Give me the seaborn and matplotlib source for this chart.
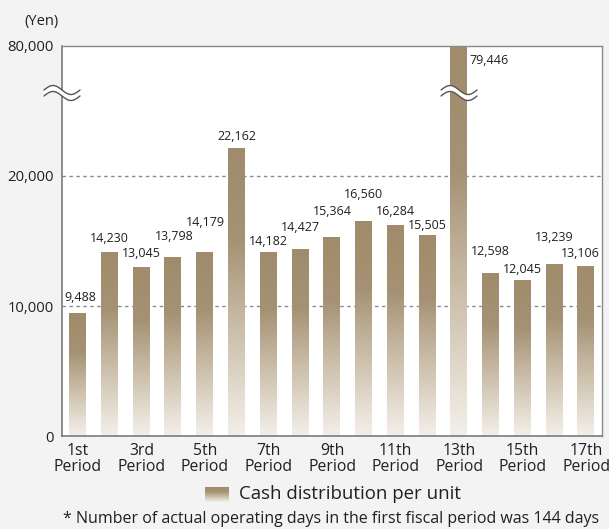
import numpy as np
import pandas as pd
import matplotlib
matplotlib.use("Agg")
import matplotlib.pyplot as plt
import seaborn as sns
from matplotlib.colors import LinearSegmentedColormap
from matplotlib.patches import Polygon
from matplotlib.lines import Line2D

# ---- data ----
periods = ["1st", "2nd", "3rd", "4th", "5th", "6th", "7th", "8th", "9th",
           "10th", "11th", "12th", "13th", "14th", "15th", "16th", "17th"]
values = [9488, 14230, 13045, 13798, 14179, 22162, 14182, 14427, 15364,
          16560, 16284, 15505, 79446, 12598, 12045, 13239, 13106]
y_ticks = [0, 10000, 20000, 80000]
grid_values = [10000, 20000]
legend_label = "Cash distribution per unit"
footnote = "* Number of actual operating days in the first fiscal period was 144 days"
unit_label = "(Yen)"

# ---- layout of value labels (pixels: centre of label above bar top, x shift) ----
label_rise_px = [15, 12.5, 12.5, 20, 29, 11.5, 10.5, 20.5, 25, 26, 13, 8.5,
                 -14, 21, 10, 26, 12]
label_shift_px = [2, 0, 0, 1, 0, 0, 0, 0, 0, 0, 0, 0, 0, 0, 0, 0, -6]

BREAK = 25000.0     # axis is linear up to here, compressed above
SQUEEZE = 11.0
BAR = "#a08c6c"
TXT = "#231f20"

sns.set_theme(style="white")
plt.rcParams["font.family"] = ["Open Sans", "DejaVu Sans"]

W, H = 609, 529
fig = plt.figure(figsize=(W / 100, H / 100), dpi=100, facecolor="#f3f3f3")
ax = fig.add_axes([62 / W, 1 - 436 / H, 540 / W, 390 / H])
ax.set_facecolor("white")

df = pd.DataFrame({"period": [p + "\nPeriod" for p in periods], "value": values})
sns.barplot(data=df, x="period", y="value", color=BAR, saturation=1,
            width=0.55, ax=ax, zorder=2, edgecolor="none")


def fwd(y):
    y = np.asarray(y, dtype=float)
    return np.where(y <= BREAK, y, BREAK + (y - BREAK) / SQUEEZE)


def inv(y):
    y = np.asarray(y, dtype=float)
    return np.where(y <= BREAK, y, BREAK + (y - BREAK) * SQUEEZE)


ax.set_yscale("function", functions=(fwd, inv))
ax.set_xlim(-0.5, len(periods) - 0.5)
ax.set_ylim(0, 80000)
ax.set_yticks(y_ticks)
ax.set_yticklabels([f"{v:,}" for v in y_ticks], fontsize=10.7, color=TXT)
ax.set_xticks(range(len(periods)))
ax.set_xticklabels([p + "\nPeriod" if i % 2 == 0 else "" for i, p in enumerate(periods)],
                   fontsize=11.3, color=TXT, linespacing=1.0)
ax.tick_params(length=0)
ax.tick_params(axis="y", pad=6)
ax.tick_params(axis="x", pad=5)
ax.set_xlabel("")
ax.set_ylabel("")

for v in grid_values:
    ax.axhline(v, color="#8a8a8a", lw=1, ls=(0, (2.5, 2.5)), zorder=1)

for s in ["left", "bottom"]:
    ax.spines[s].set_color("#707070")
    ax.spines[s].set_linewidth(1.1)
for s in ["top", "right"]:
    ax.spines[s].set_color("#8a8a8a")
    ax.spines[s].set_linewidth(1.0)

# gradient fill for bars (dark at top, fading at bottom)
cmap = LinearSegmentedColormap.from_list(
    "grad", [(0.0, "#f3efe9"), (0.35, "#cdc1ad"), (0.68, "#a59274"), (1.0, BAR)])
grad = np.linspace(0, 1, 256).reshape(-1, 1)
xaxis_tr = ax.get_xaxis_transform()
patches = list(ax.containers[0].patches)
for p in patches:
    x0, w, h = p.get_x(), p.get_width(), p.get_height()
    yt = ax.transAxes.inverted().transform(ax.transData.transform((x0, h)))[1]
    ax.imshow(grad, cmap=cmap, origin="lower", extent=(x0, x0 + w, 0, yt),
              transform=xaxis_tr, aspect="auto", zorder=2.5,
              interpolation="bilinear")
    p.set_facecolor("none")
ax.set_xlim(-0.5, len(periods) - 0.5)
ax.set_ylim(0, 80000)

# value labels
PX = 0.72  # points per pixel at 100 dpi
for i, (p, v) in enumerate(zip(patches, values)):
    if v > 2 * BREAK:
        ax.annotate(f"{v:,}", xy=(p.get_x() + p.get_width(), v),
                    xytext=(1.0, label_rise_px[i] * PX), textcoords="offset points",
                    ha="left", va="center", fontsize=9, color=TXT, zorder=6)
    else:
        ax.annotate(f"{v:,}", xy=(p.get_x() + p.get_width() / 2, v),
                    xytext=(label_shift_px[i] * PX, label_rise_px[i] * PX),
                    textcoords="offset points",
                    ha="center", va="center", fontsize=9, color=TXT, zorder=6)


# break symbols
def draw_break(xd, yd):
    xs = np.linspace(-18, 18, 90)
    base = 4.5 * np.sin(np.pi * (xs + 18) / 18)
    up = base + 3
    lo = base - 3
    fx = (xd + xs) / fig.bbox.width
    fyu = (yd + up) / fig.bbox.height
    fyl = (yd + lo) / fig.bbox.height
    poly = Polygon(np.column_stack([np.concatenate([fx, fx[::-1]]),
                                    np.concatenate([fyu, fyl[::-1]])]),
                   closed=True, facecolor="white", edgecolor="none",
                   transform=fig.transFigure, zorder=5)
    fig.add_artist(poly)
    for fy in (fyu, fyl):
        fig.add_artist(Line2D(fx, fy, transform=fig.transFigure,
                              color="#555555", lw=1.0, zorder=6))


yfrac = (436 - 93) / 390
yd = ax.transAxes.transform((0, yfrac))[1]
draw_break(ax.transAxes.transform((0, yfrac))[0], yd)
big = int(np.argmax(values))
draw_break(ax.transData.transform((big, 1))[0], yd)

# legend
lax = fig.add_axes([205 / W, 1 - 502 / H, 24 / W, 15 / H])
lax.imshow(grad, cmap=cmap, origin="lower", aspect="auto")
lax.axis("off")
fig.text(239 / W, 1 - 494 / H, legend_label, fontsize=13.4, va="center",
         ha="left", color=TXT)

fig.text(63 / W, 1 - 519 / H, footnote, fontsize=11.5, va="center",
         ha="left", color=TXT)
fig.text(24 / W, 1 - 21 / H, unit_label, fontsize=10.5, va="center",
         ha="left", color=TXT)

fig.savefig("out.png", dpi=100, facecolor=fig.get_facecolor())
